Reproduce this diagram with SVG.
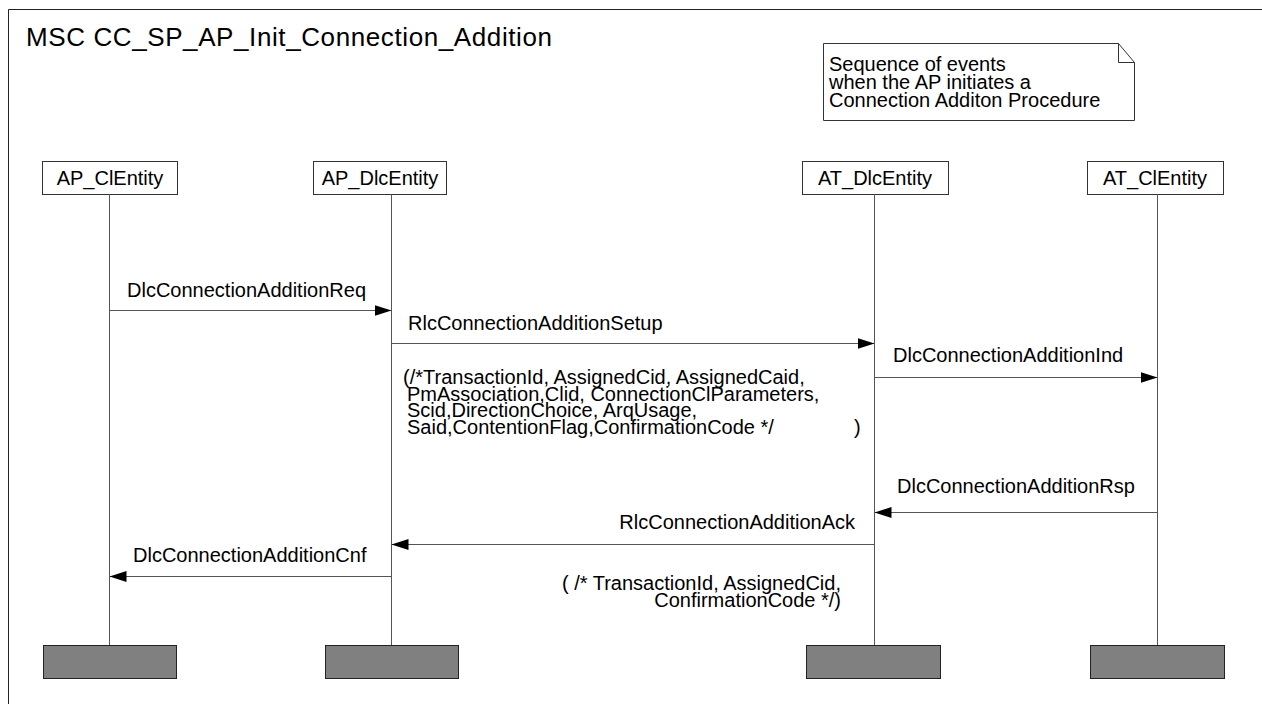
<svg xmlns="http://www.w3.org/2000/svg" width="1262" height="704" viewBox="0 0 1262 704">
<defs>
<style>
text{font-family:"Liberation Sans",Arial,sans-serif;font-size:20px;fill:#000}
.title{font-size:26px;letter-spacing:0.6px}
.box{fill:#fff;stroke:#333;stroke-width:1}
.life{stroke:#555;stroke-width:1}
.end{fill:#808080;stroke:#222;stroke-width:1}
.msg{stroke:#555;stroke-width:1;fill:none;marker-end:url(#ah)}
</style>
<marker id="ah" markerWidth="18" markerHeight="12" refX="17" refY="6" orient="auto" markerUnits="userSpaceOnUse">
<path d="M0,0.5 L17,6 L0,11.5 Z" fill="#000"/>
</marker>
</defs>
<rect width="1262" height="704" fill="#fff"/>
<g id="frame">
<path d="M8.5,704 L8.5,9.5 L1262,9.5" fill="none" stroke="#222" stroke-width="1"/>
<text class="title" x="26" y="46">MSC CC_SP_AP_Init_Connection_Addition</text>
</g>
<g id="note">
<path d="M823.5,43.5 L1118.5,43.5 L1134.5,62.5 L1134.5,120.5 L823.5,120.5 Z" class="box"/>
<path d="M1118.5,43.5 L1118.5,62.5 L1134.5,62.5" fill="none" stroke="#333"/>
<text x="829" y="71">Sequence of events</text>
<text x="829" y="89">when the AP initiates a</text>
<text x="829" y="107">Connection Additon Procedure</text>
</g>
<g id="AP_ClEntity">
<rect class="box" x="42.5" y="161.5" width="135" height="33"/>
<text x="110" y="185" text-anchor="middle">AP_ClEntity</text>
<line class="life" x1="109.5" y1="194.5" x2="109.5" y2="645"/>
<rect class="end" x="43.5" y="645.5" width="133" height="33"/>
</g>
<g id="AP_DlcEntity">
<rect class="box" x="313.5" y="161.5" width="133" height="33"/>
<text x="380" y="185" text-anchor="middle">AP_DlcEntity</text>
<line class="life" x1="391.5" y1="194.5" x2="391.5" y2="645"/>
<rect class="end" x="325.5" y="645.5" width="133" height="33"/>
</g>
<g id="AT_DlcEntity">
<rect class="box" x="802.5" y="161.5" width="146" height="33"/>
<text x="875" y="185" text-anchor="middle">AT_DlcEntity</text>
<line class="life" x1="874.5" y1="194.5" x2="874.5" y2="645"/>
<rect class="end" x="806.5" y="645.5" width="134" height="33"/>
</g>
<g id="AT_ClEntity">
<rect class="box" x="1087.5" y="161.5" width="136" height="33"/>
<text x="1155" y="185" text-anchor="middle">AT_ClEntity</text>
<line class="life" x1="1157.5" y1="194.5" x2="1157.5" y2="645"/>
<rect class="end" x="1090.5" y="645.5" width="134" height="33"/>
</g>
<g id="connectors">
<line class="msg" x1="109.5" y1="310.5" x2="391.5" y2="310.5"/>
<text x="127" y="297">DlcConnectionAdditionReq</text>
<line class="msg" x1="391.5" y1="343.5" x2="874.5" y2="343.5"/>
<text x="408" y="330">RlcConnectionAdditionSetup</text>
<text x="403" y="384">(/*TransactionId, AssignedCid, AssignedCaid,</text>
<text x="407" y="401">PmAssociation,Clid, ConnectionClParameters,</text>
<text x="407" y="417">Scid,DirectionChoice, ArqUsage,</text>
<text x="407" y="434">Said,ContentionFlag,ConfirmationCode */<tspan x="854">)</tspan></text>
<line class="msg" x1="874.5" y1="377.5" x2="1157.5" y2="377.5"/>
<text x="893" y="362">DlcConnectionAdditionInd</text>
<line class="msg" x1="1157.5" y1="512.5" x2="874.5" y2="512.5"/>
<text x="897" y="493">DlcConnectionAdditionRsp</text>
<line class="msg" x1="874.5" y1="544.5" x2="391.5" y2="544.5"/>
<text x="855" y="529" text-anchor="end">RlcConnectionAdditionAck</text>
<line class="msg" x1="391.5" y1="576.5" x2="109.5" y2="576.5"/>
<text x="133" y="562">DlcConnectionAdditionCnf</text>
<text x="841" y="590" text-anchor="end">( /* TransactionId, AssignedCid,</text>
<text x="841" y="607" text-anchor="end">ConfirmationCode */)</text>
</g>
</svg>
